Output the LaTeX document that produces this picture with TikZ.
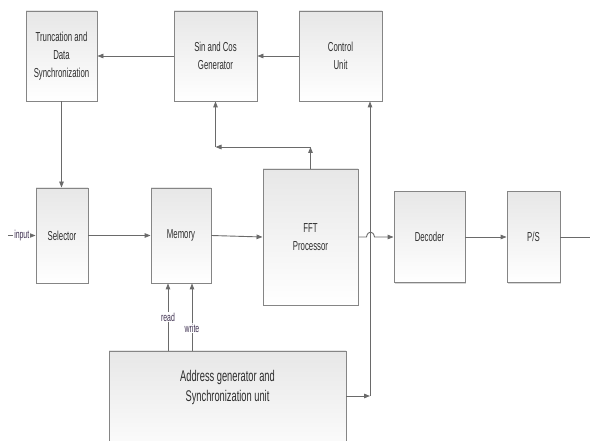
\documentclass[tikz,border=0pt]{standalone}
\usepackage{fontspec}
\setmainfont[FakeStretch=0.6]{Liberation Sans}
\usetikzlibrary{arrows.meta,shadows}
\definecolor{edgec}{HTML}{858585}
\definecolor{wirec}{HTML}{6A6A6A}
\definecolor{txtc}{HTML}{2E2E2E}
\definecolor{sigc}{HTML}{3E3050}
\definecolor{boxtop}{HTML}{E7E7E7}
\begin{document}
\begin{tikzpicture}[x=1pt,y=-1pt,
  box/.style={draw=edgec, line width=0.9pt, top color=boxtop, bottom color=white,
    drop shadow={shadow xshift=1.2pt, shadow yshift=-1.2pt, opacity=0.35, fill=black!45},
    text=txtc, font=\fontsize{13}{18}\selectfont, align=center, inner sep=0pt},
  wire/.style={draw=wirec, line width=0.9pt},
  arr/.style={wire, -{Triangle[length=6pt,width=4.6pt]}},
  sig/.style={text=sigc, font=\fontsize{11.5}{12}\selectfont, fill=white, inner sep=0.8pt}
]
\useasboundingbox (0,0) rectangle (590,441);
\clip (0,0) rectangle (590,441);

% blocks
\node[box, minimum width=71pt, minimum height=90pt] (trunc) at (61.5,56) {Truncation and\\Data\\Synchronization};
\node[box, minimum width=83pt, minimum height=90pt] (sincos) at (215.5,56) {Sin and Cos\\Generator};
\node[box, minimum width=83pt, minimum height=90pt] (ctrl) at (340.5,56) {Control\\Unit};
\node[box, minimum width=52pt, minimum height=95pt] (sel) at (62,235.5) {Selector};
\node[box, minimum width=60pt, minimum height=95pt] (mem) at (181,235.5) {Memory};
\node[box, minimum width=95pt, minimum height=136pt] (fft) at (310.5,237) {FFT\\Processor};
\node[box, minimum width=71pt, minimum height=91pt] (dec) at (429.5,237) {Decoder};
\node[box, minimum width=53pt, minimum height=91pt] (ps) at (533.5,237) {P/S};
\node[box, minimum width=237pt, minimum height=110pt,
  label={[name=addrtxt, text=txtc, font=\fontsize{15.5}{20}\selectfont, align=center, yshift=19pt]center:Address generator and\\Synchronization unit}]
  (addr) at (227.5,406) {};

% coordinates
\coordinate (inL) at (8,235.5);
\coordinate (fb1) at (310.5,147);
\coordinate (fb2) at (215.5,147);
\coordinate (bus) at (370,396);
\coordinate (rd) at (168,351);
\coordinate (wr) at (192,351);
\coordinate (out) at (590,237);
\coordinate (h1) at (366.5,237);
\coordinate (h2) at (374.5,237);

% connectors
\draw[arr] (ctrl.west) -- (sincos.east);
\draw[arr] (sincos.west) -- (trunc.east);
\draw[arr] (trunc.south) -- (trunc.south |- sel.north);
\draw[arr] (inL) -- node[sig] {input} (sel.west);
\draw[arr] (sel.east) -- (mem.west);
\draw[arr] (mem.east) -- (fft.west);
\draw[arr] (fft.north) -- (fb1);
\draw[arr] (fb1) -- (fb2);
\draw[arr] (fb2) -- (sincos.south);
\draw[arr] (addr.east |- bus) -- (bus);
\draw[arr] (bus) -- (bus |- ctrl.south);
\draw[arr] (fft.east) -- (h1) .. controls (367.5,230.5) and (373.5,230.5) .. (h2) -- (dec.west);
\draw[arr] (dec.east) -- (ps.west);
\draw[wire] (ps.east) -- (out);
\draw[arr] (rd) -- node[sig] {read} (rd |- mem.south);
\draw[arr] (wr) -- node[sig, pos=0.34] {write} (wr |- mem.south);
\end{tikzpicture}
\end{document}
